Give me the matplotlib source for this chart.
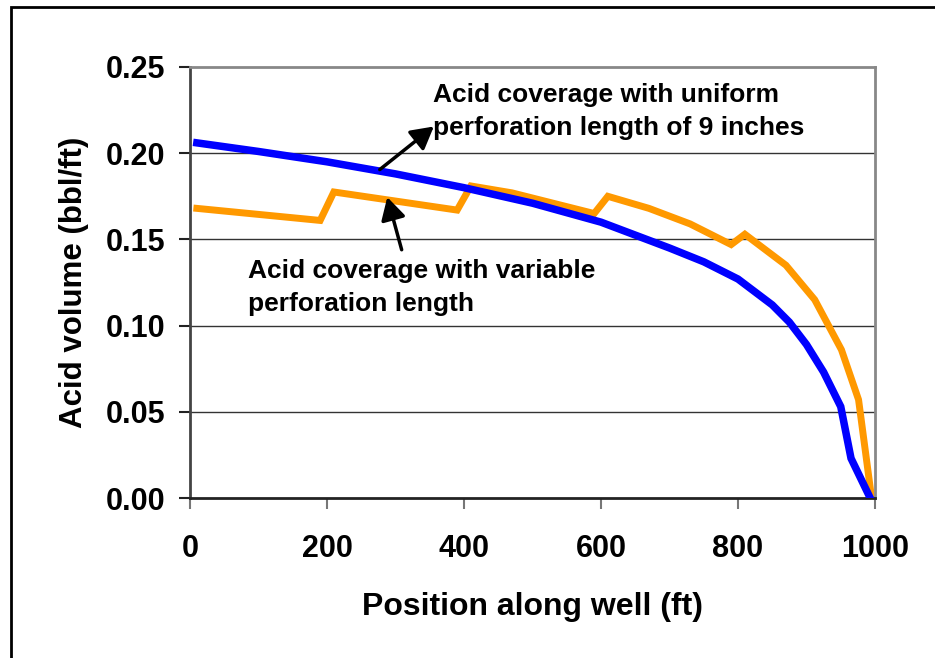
import matplotlib
matplotlib.use("Agg")
import matplotlib.pyplot as plt
from matplotlib.patches import Rectangle

plt.rcParams['font.family'] = ['Liberation Sans', 'DejaVu Sans']
plt.rcParams['font.weight'] = 'bold'

# Uniform perforation length (blue)
uniform_x = [10, 100, 200, 300, 400, 500, 600, 700, 750, 800, 850, 875, 900, 925, 950, 965, 993]
uniform_y = [0.206, 0.201, 0.195, 0.188, 0.180, 0.171, 0.160, 0.145, 0.137, 0.127, 0.112, 0.102,
             0.089, 0.073, 0.053, 0.023, 0.000]

# Variable perforation length (orange)
variable_x = [10, 190, 210, 390, 410, 470, 590, 610, 670, 730, 790, 810, 870, 912, 951, 976, 995]
variable_y = [0.168, 0.161, 0.1775, 0.167, 0.181, 0.177, 0.165, 0.175, 0.168, 0.159, 0.147, 0.153,
              0.135, 0.115, 0.086, 0.057, 0.000]

x_ticks = [0, 200, 400, 600, 800, 1000]
y_ticks = [0.00, 0.05, 0.10, 0.15, 0.20, 0.25]

fig = plt.figure(figsize=(9.35, 6.58), dpi=100)
ax = fig.add_axes([190/935, 1-498/658, (875-190)/935, (498-67)/658])

ax.plot(uniform_x, uniform_y, color='#0000FF', lw=5.4, solid_joinstyle='miter', zorder=3)
ax.plot(variable_x, variable_y, color='#FF9900', lw=5.0, solid_joinstyle='miter', zorder=2)

ax.set_xlim(0, 1000)
ax.set_ylim(0, 0.25)
ax.set_xticks(x_ticks)
ax.set_yticks(y_ticks)
ax.set_xticklabels([str(v) for v in x_ticks])
ax.set_yticklabels([f"{v:.2f}" for v in y_ticks])

for v in y_ticks[1:-1]:
    ax.axhline(v, color='#333333', lw=1.0, zorder=1)

ax.spines['left'].set_color('#444444')
ax.spines['left'].set_linewidth(2.0)
ax.spines['bottom'].set_color('#222222')
ax.spines['bottom'].set_linewidth(2.0)
ax.spines['top'].set_color('#888888')
ax.spines['top'].set_linewidth(2.0)
ax.spines['right'].set_color('#888888')
ax.spines['right'].set_linewidth(2.0)

ax.tick_params(axis='y', direction='out', length=8, width=1.5, color='#222222', pad=10, labelsize=22)
ax.tick_params(axis='x', direction='out', length=8, width=1.5, color='#777777', pad=18, labelsize=22)

ax.set_xlabel('Position along well (ft)', fontsize=23, fontweight='bold', labelpad=20)
ax.set_ylabel('Acid volume (bbl/ft)', fontsize=22.5, fontweight='bold', labelpad=12)

ax.annotate('', xy=(356, 0.2155), xytext=(277, 0.1905),
            arrowprops=dict(arrowstyle='-|>,head_length=0.45,head_width=0.25', lw=2.5,
                            color='black', mutation_scale=30, shrinkA=0, shrinkB=0))
ax.annotate('', xy=(288, 0.1745), xytext=(309, 0.144),
            arrowprops=dict(arrowstyle='-|>,head_length=0.45,head_width=0.25', lw=2.5,
                            color='black', mutation_scale=30, shrinkA=0, shrinkB=0))

ax.text(355, 0.2405, 'Acid coverage with uniform\nperforation length of 9 inches',
        fontsize=19, fontweight='bold', ha='left', va='top', linespacing=1.45)
ax.text(85, 0.1385, 'Acid coverage with variable\nperforation length',
        fontsize=19, fontweight='bold', ha='left', va='top', linespacing=1.45)

fig.add_artist(Rectangle((11/935, -0.2), 1.2, 1-7/658+0.2, transform=fig.transFigure,
                         fill=False, edgecolor='black', lw=2))

fig.savefig('out.png', dpi=100)
